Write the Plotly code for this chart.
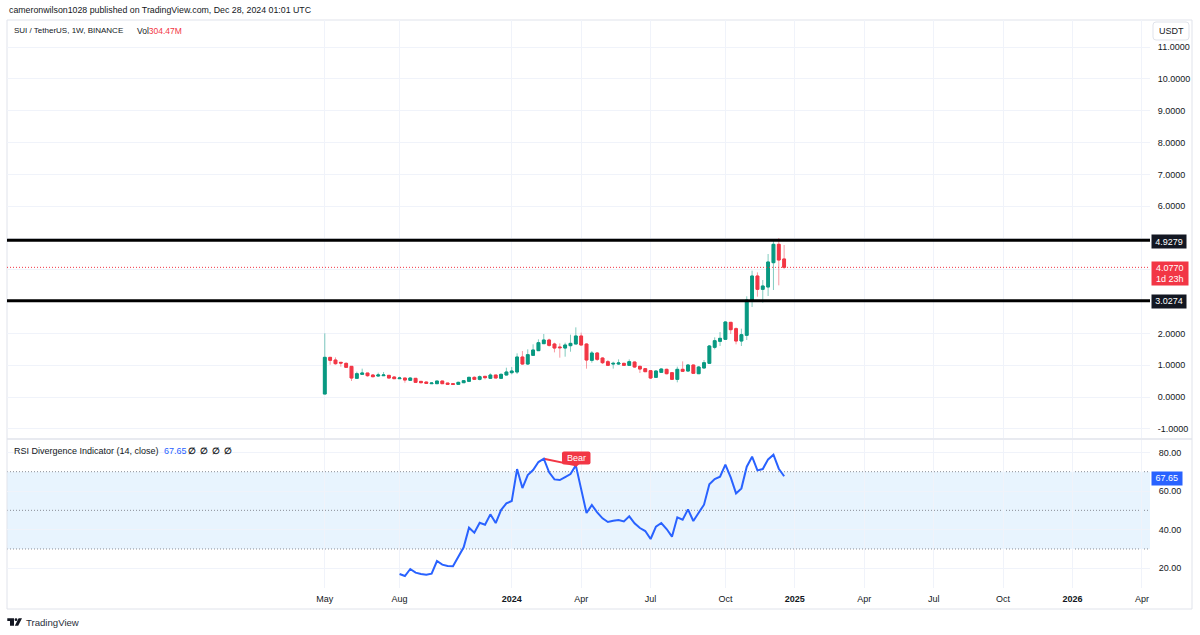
import pandas as pd
import plotly.graph_objects as go
from plotly.subplots import make_subplots

W, H = 1200, 635
FONT = "Liberation Sans"
GREEN, RED, BLUE = "#089981", "#f23645", "#2962ff"
INK, GRID, FRAME = "#131722", "#f0f3fa", "#e0e3eb"

# weekly SUI/USDT candles
opens = [0.094, 1.247, 1.163, 1.09, 1.058, 0.964, 0.587, 0.712, 0.754, 0.691,
         0.66, 0.67, 0.681, 0.629, 0.576, 0.597, 0.524, 0.587, 0.492, 0.471,
         0.419, 0.419, 0.503, 0.44, 0.419, 0.398, 0.45, 0.492, 0.618, 0.555,
         0.65, 0.587, 0.691, 0.587, 0.691, 0.765, 0.786, 1.257, 1.037, 1.31,
         1.457, 1.677, 1.792, 1.666, 1.572, 1.54, 1.614, 1.666, 1.918, 1.666,
         1.153, 1.383, 1.226, 1.111, 1.037, 1.037, 1.058, 0.995, 1.1, 0.964,
         0.891, 0.828, 0.618, 0.775, 0.87, 0.765, 0.555, 0.87, 0.817, 1.006,
         0.733, 0.912, 1.059, 1.562, 1.75, 1.813, 2.348, 2.149, 1.761, 1.939,
         3.019, 3.805, 3.386, 3.459, 4.224, 4.801, 4.34]
highs = [2.002, 1.26, 1.247, 1.09, 1.09, 0.964, 0.796, 0.891, 0.754, 0.723,
         0.765, 0.786, 0.691, 0.65, 0.639, 0.597, 0.618, 0.597, 0.503, 0.482,
         0.461, 0.503, 0.503, 0.44, 0.44, 0.482, 0.534, 0.639, 0.65, 0.681,
         0.66, 0.744, 0.691, 0.744, 0.922, 0.943, 1.373, 1.446, 1.499, 1.656,
         1.813, 1.981, 1.834, 1.708, 1.687, 1.708, 1.96, 2.19, 2.023, 1.687,
         1.446, 1.415, 1.247, 1.163, 1.111, 1.184, 1.079, 1.184, 1.111, 0.985,
         0.912, 0.849, 0.838, 0.901, 0.891, 0.786, 0.954, 1.121, 1.037, 1.016,
         0.974, 1.163, 1.635, 1.876, 2.044, 2.38, 2.359, 2.191, 2.149, 3.166,
         3.973, 3.92, 3.679, 4.497, 4.937, 5.0, 4.78]
lows = [0.094, 1.016, 1.016, 0.954, 0.933, 0.503, 0.587, 0.712, 0.639, 0.618,
        0.639, 0.66, 0.587, 0.566, 0.576, 0.45, 0.513, 0.45, 0.429, 0.419,
        0.419, 0.408, 0.408, 0.387, 0.377, 0.387, 0.44, 0.471, 0.534, 0.524,
        0.555, 0.566, 0.597, 0.576, 0.681, 0.712, 0.723, 1.016, 1.006, 1.299,
        1.446, 1.677, 1.582, 1.404, 1.237, 1.268, 1.425, 1.666, 1.624, 0.891,
        1.079, 1.132, 1.037, 0.974, 0.891, 1.006, 0.985, 0.985, 0.922, 0.754,
        0.786, 0.566, 0.608, 0.765, 0.712, 0.534, 0.461, 0.796, 0.796, 0.733,
        0.723, 0.901, 1.038, 1.499, 1.604, 1.803, 1.981, 1.656, 1.604, 1.792,
        2.83, 3.155, 2.966, 3.176, 3.365, 3.512, 4.025]
closes = [1.247, 1.153, 1.048, 1.069, 0.933, 0.597, 0.733, 0.754, 0.67, 0.639,
          0.691, 0.691, 0.597, 0.576, 0.597, 0.534, 0.597, 0.461, 0.45, 0.429,
          0.44, 0.503, 0.419, 0.398, 0.398, 0.461, 0.513, 0.618, 0.555, 0.639,
          0.608, 0.691, 0.597, 0.712, 0.786, 0.817, 1.257, 1.037, 1.331, 1.478,
          1.708, 1.792, 1.624, 1.54, 1.551, 1.635, 1.687, 1.918, 1.635, 1.163,
          1.383, 1.184, 1.079, 0.995, 1.058, 1.069, 0.995, 1.111, 0.943, 0.88,
          0.796, 0.597, 0.817, 0.88, 0.733, 0.555, 0.87, 0.807, 1.006, 0.744,
          0.943, 1.079, 1.604, 1.771, 1.845, 2.359, 2.117, 1.761, 1.96, 3.05,
          3.805, 3.386, 3.491, 4.245, 4.801, 4.308, 4.077]

# RSI starts 14 bars after the first candle
rsi = [17.05, 16.01, 19.64, 17.74, 17.05, 16.70, 17.22, 23.77, 21.88, 21.19,
       21.02, 26.02, 30.84, 41.02, 38.43, 43.60, 42.57, 47.92, 43.43, 50.16,
       53.61, 54.81, 71.37, 61.54, 68.26, 70.85, 74.99, 76.71, 69.64, 66.02,
       65.68, 67.23, 68.78, 73.26, 61.37, 48.61, 52.74, 48.95, 45.85, 43.95,
       44.64, 44.98, 44.29, 46.88, 43.26, 40.85, 39.29, 35.16, 41.54, 43.43,
       40.33, 36.36, 46.37, 45.16, 50.50, 44.47, 48.78, 52.92, 63.44, 66.19,
       67.40, 73.61, 67.06, 58.78, 61.37, 72.57, 77.75, 70.68, 71.37, 76.37,
       78.78, 71.54, 67.65]

levels = [4.9279, 3.0274]
last_price = 4.077
last_rsi = 67.65
rsi_bands = [70, 50, 30]
bear_bars = [41, 47]
bear_rsi = [76.71, 73.26]

price_ticks = [-1, 0, 1, 2, 3, 4, 5, 6, 7, 8, 9, 10, 11]
price_labels = ["-1.0000", "0.0000", "1.0000", "2.0000", "", "", "", "6.0000",
                "7.0000", "8.0000", "9.0000", "10.0000", "11.0000"]
rsi_ticks = [20, 40, 60, 80]
rsi_labels = ["20.00", "40.00", "60.00", "80.00"]
date_ticks = ["2023-05-01", "2023-08-07", "2024-01-01", "2024-04-01", "2024-07-01", "2024-10-07",
              "2025-01-06", "2025-04-07", "2025-07-07", "2025-10-06", "2026-01-05", "2026-04-06"]
date_labels = ["May", "Aug", "<b>2024</b>", "Apr", "Jul", "Oct",
               "<b>2025</b>", "Apr", "Jul", "Oct", "<b>2026</b>", "Apr"]

dates = pd.date_range("2023-05-01", periods=len(opens), freq="7D")
first = dates[0]
x_range = [first - pd.Timedelta(weeks=59.5), first + pd.Timedelta(weeks=154.5)]


def px(x):
    return x / W


def py(y):
    return 1 - y / H


def round_box(x0, y0, x1, y1, r):
    """rounded rect path in paper coords, from pixel positions"""
    pts = [("M", x0 + r, y0), ("L", x1 - r, y0), ("Q", x1, y0, x1, y0 + r), ("L", x1, y1 - r),
           ("Q", x1, y1, x1 - r, y1), ("L", x0 + r, y1), ("Q", x0, y1, x0, y1 - r),
           ("L", x0, y0 + r), ("Q", x0, y0, x0 + r, y0)]
    out = ""
    for p in pts:
        nums = p[1:]
        coords = [f"{px(nums[i]):.5f},{py(nums[i + 1]):.5f}" for i in range(0, len(nums), 2)]
        out += p[0] + " ".join(coords) + " "
    return out + "Z"


def polygon(points):
    return "M" + " L".join(f"{px(x):.5f},{py(y):.5f}" for x, y in points) + " Z"


def label(x, y, text, size=9, color=INK, anchor="left"):
    fig.add_annotation(xref="paper", yref="paper", x=px(x), y=py(y), text=text, showarrow=False,
                       xanchor=anchor, yanchor="middle", borderpad=0,
                       font=dict(family=FONT, size=size, color=color))


def tag(x0, y0, x1, y1, text, bg, size=9):
    fig.add_annotation(xref="paper", yref="paper", x=px(x0), y=py(y0), xanchor="left", yanchor="top",
                       width=x1 - x0, height=y1 - y0, text=text, showarrow=False, align="center",
                       bgcolor=bg, borderpad=0, font=dict(family=FONT, size=size, color="white"))


fig = make_subplots(rows=2, cols=1, shared_xaxes=True)

# wicks are paler than the bodies, so draw them as their own candle layer
fig.add_trace(go.Candlestick(
    x=dates, open=opens, high=highs, low=lows, close=closes, whiskerwidth=0,
    increasing=dict(line=dict(color="rgba(8,153,129,0.5)", width=1), fillcolor="rgba(0,0,0,0)"),
    decreasing=dict(line=dict(color="rgba(242,54,69,0.5)", width=1), fillcolor="rgba(0,0,0,0)"),
), row=1, col=1)
fig.add_trace(go.Candlestick(
    x=dates, open=opens, close=closes, whiskerwidth=0,
    high=[max(o, c) for o, c in zip(opens, closes)],
    low=[min(o, c) for o, c in zip(opens, closes)],
    increasing=dict(line=dict(color=GREEN, width=1), fillcolor=GREEN),
    decreasing=dict(line=dict(color=RED, width=1), fillcolor=RED),
), row=1, col=1)

fig.add_trace(go.Scatter(x=[dates[i] for i in bear_bars], y=bear_rsi, mode="lines",
                         line=dict(color=RED, width=2)), row=2, col=1)
fig.add_trace(go.Scatter(x=dates[14:], y=rsi, mode="lines",
                         line=dict(color=BLUE, width=2)), row=2, col=1)

for lv in levels:
    fig.add_hline(y=lv, line_color="#000000", line_width=3, row=1, col=1)
fig.add_hline(y=last_price, line_color=RED, line_width=1, line_dash="1px,2px", row=1, col=1)

fig.add_hrect(y0=rsi_bands[2], y1=rsi_bands[0], fillcolor="rgba(33,150,243,0.1)", line_width=0,
              layer="below", row=2, col=1)
for lv in rsi_bands:
    fig.add_hline(y=lv, line_color="#8a8d96", line_width=1, line_dash="1px,2px", layer="below", row=2, col=1)

fig.update_layout(
    width=W, height=H, margin=dict(l=0, r=0, t=0, b=0), showlegend=False,
    paper_bgcolor="white", plot_bgcolor="white", boxgap=0.25,
    font=dict(family=FONT, size=9, color=INK),
    xaxis=dict(domain=[px(7), px(1150)], anchor="y", rangeslider_visible=False, type="date",
               range=x_range, tickvals=date_ticks, ticktext=date_labels, showticklabels=False,
               showgrid=True, gridcolor=GRID, gridwidth=1, zeroline=False, ticks=""),
    xaxis2=dict(domain=[px(7), px(1150)], anchor="y2", rangeslider_visible=False, type="date",
                range=x_range, tickvals=date_ticks, ticktext=date_labels, showticklabels=True,
                showgrid=True, gridcolor=GRID, gridwidth=1, zeroline=False,
                ticks="outside", ticklen=2, tickcolor="rgba(0,0,0,0)"),
    yaxis=dict(domain=[py(438), py(20)], anchor="x", side="right", range=[-1.289, 11.855],
               tickvals=price_ticks, ticktext=price_labels, showgrid=True, gridcolor=GRID,
               zeroline=False, ticks="outside", ticklen=5, tickcolor="rgba(0,0,0,0)"),
    yaxis2=dict(domain=[py(588), py(440)], anchor="x2", side="right", range=[9.8, 86.4],
                tickvals=rsi_ticks, ticktext=rsi_labels, showgrid=True, gridcolor=GRID,
                zeroline=False, ticks="outside", ticklen=6, tickcolor="rgba(0,0,0,0)"),
)

# frame around the chart and pane separator
fig.add_shape(type="rect", xref="paper", yref="paper", x0=px(7), x1=px(1192), y0=py(609), y1=py(20),
              line=dict(color=FRAME, width=1), layer="below")
fig.add_shape(type="line", xref="paper", yref="paper", x0=px(7), x1=px(1192), y0=py(439), y1=py(439),
              line=dict(color=FRAME, width=1.5), layer="below")

# USDT button
fig.add_shape(type="path", xref="paper", yref="paper", path=round_box(1153, 22, 1189, 40, 3),
              line=dict(color=FRAME, width=1), fillcolor="white")
label(1171, 31.5, "USDT", anchor="center")

# price and value tags on the right scale
tag(1151, 234, 1185, 247, f"{levels[0]:.4f}", INK)
tag(1151, 294, 1185, 306.5, f"{levels[1]:.4f}", INK)
tag(1151, 261, 1186.5, 284, f"{last_price:.4f}<br>1d 23h", RED)
tag(1151, 470.5, 1180.5, 483, f"{last_rsi:.2f}", BLUE)

# Bear label
fig.add_shape(type="path", xref="paper", yref="paper", path=round_box(562, 451.5, 590.5, 464.5, 2),
              line=dict(width=0), fillcolor=RED)
fig.add_shape(type="path", xref="paper", yref="paper",
              path=polygon([(572.5, 464), (579.5, 464), (576, 467)]),
              line=dict(width=0), fillcolor=RED)
label(576.2, 458, "Bear", color="white", anchor="center")

# header and legends
label(8, 10.5, "cameronwilson1028 published on TradingView.com, Dec 28, 2024 01:01 UTC", size=8.8)
label(13, 30.5, "SUI / TetherUS, 1W, BINANCE", size=8)
label(136, 30.5, f"Vol<span style='color:{RED}'>304.47M</span>", size=8.5)
label(13, 451, "RSI Divergence Indicator (14, close)")
label(163, 451, f"{last_rsi:.2f}", color=BLUE)
for x_pos in [192, 204, 216, 228]:
    label(x_pos, 451, "<b>∅</b>", anchor="center")

# TradingView logo
for shape_path in [polygon([(7.3, 618.3), (14, 618.3), (14, 625.7), (10, 625.7), (10, 621), (7.3, 621)]),
                   polygon([(18.6, 618.3), (22, 618.3), (18.2, 625.7), (14.8, 625.7)]),
                   round_box(14.6, 618.3, 17.4, 621.1, 1.4)]:
    fig.add_shape(type="path", xref="paper", yref="paper", path=shape_path,
                  line=dict(width=0), fillcolor=INK)
label(24.5, 622, "TradingView", size=9.6, color="#2a2e39")

fig.write_html("out.html", config=dict(displayModeBar=False),
               post_script="document.body.style.margin='0';document.body.style.overflow='hidden';")
